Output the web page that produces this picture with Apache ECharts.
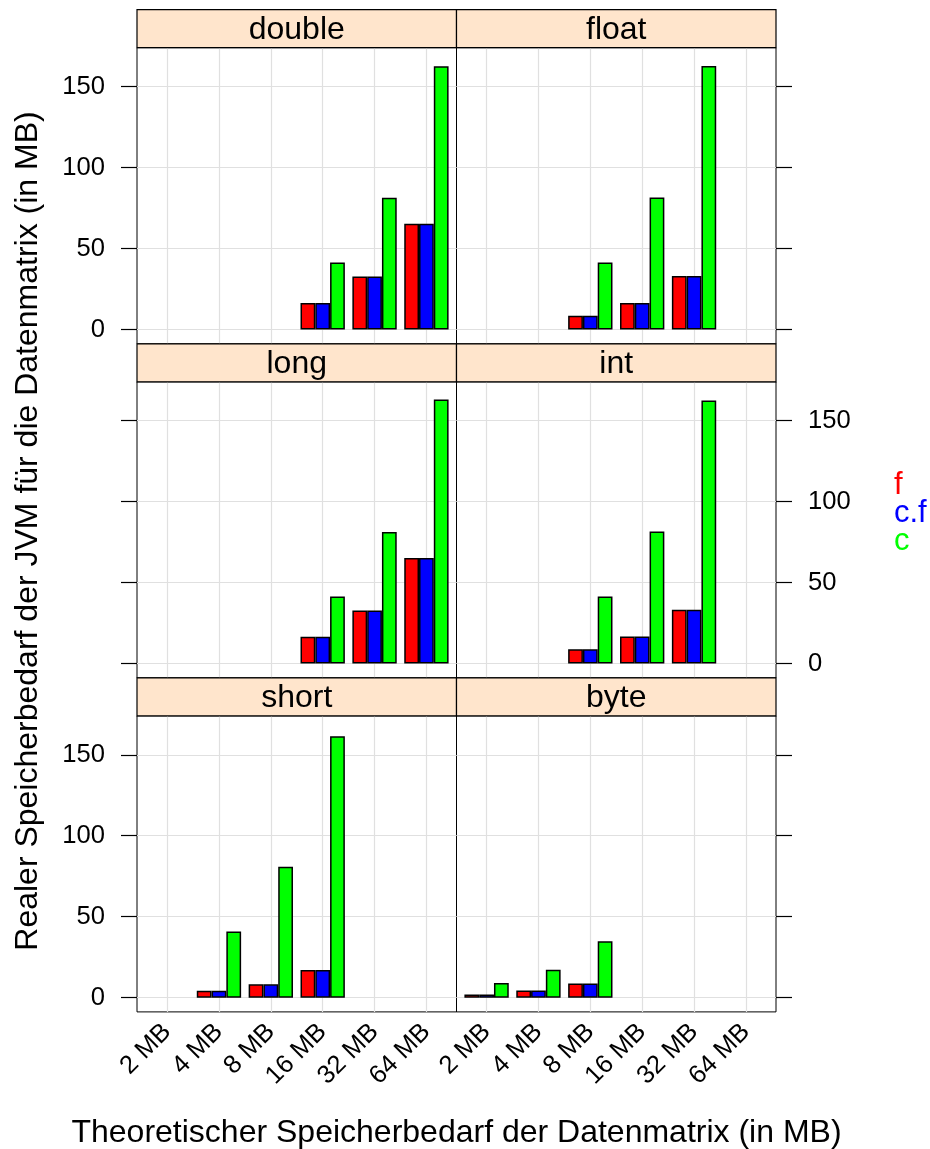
<!DOCTYPE html>
<html>
<head>
<meta charset="utf-8">
<script src="https://cdn.jsdelivr.net/npm/echarts@6/dist/echarts.min.js"></script>
<style>
html,body{margin:0;padding:0;background:#fff;}
#chart{width:930px;height:1149px;}
</style>
</head>
<body>
<div id="chart"></div>
<script>
// ---- data ----
const categories = ['2 MB', '4 MB', '8 MB', '16 MB', '32 MB', '64 MB'];
const panelNames = ['double', 'float', 'long', 'int', 'short', 'byte'];
const seriesNames = ['f', 'c.f', 'c'];
const seriesColors = ['#FF0000', '#0000FF', '#00FF00'];
const yTickValues = [0, 50, 100, 150];
const xTickValues = [0, 1, 2, 3, 4, 5];

const doubleF  = [null, null, null, 16.4, 32.7, 65.3];
const doubleCF = [null, null, null, 16.4, 32.7, 65.3];
const doubleC  = [null, null, null, 41.4, 81.4, 162.6];

const floatF   = [null, null, 8.4, 16.4, 33.0, null];
const floatCF  = [null, null, 8.4, 16.4, 33.0, null];
const floatC   = [null, null, 41.4, 81.5, 162.7, null];

const longF    = [null, null, null, 16.6, 32.8, 65.2];
const longCF   = [null, null, null, 16.6, 32.8, 65.2];
const longC    = [null, null, null, 41.4, 81.3, 163.0];

const intF     = [null, null, 8.8, 16.7, 33.3, null];
const intCF    = [null, null, 8.8, 16.7, 33.3, null];
const intC     = [null, null, 41.4, 81.5, 162.5, null];

const shortF   = [null, 4.3, 8.2, 17.0, null, null];
const shortCF  = [null, 4.3, 8.2, 17.0, null, null];
const shortC   = [null, 40.9, 80.8, 161.5, null, null];

const byteF    = [2.0, 4.4, 8.7, null, null, null];
const byteCF   = [1.9, 4.4, 8.7, null, null, null];
const byteC    = [9.0, 17.2, 34.8, null, null, null];

const panelData = [
  [doubleF, doubleCF, doubleC],
  [floatF, floatCF, floatC],
  [longF, longCF, longC],
  [intF, intCF, intC],
  [shortF, shortCF, shortC],
  [byteF, byteCF, byteC]
];

// ---- layout ----
const FONT = '"Liberation Sans", Arial, Helvetica, sans-serif';
const panelLeft0 = 137, panelW = 319.5;
const panelTop0 = 47.7, rowStep = 334.1, panelH = 296, stripH = 38;
const yMin = -8.8, yMax = 174;
const xMin = -0.58, xMax = 5.58;

const grids = [], xAxes = [], yAxes = [], series = [], graphics = [];

panelNames.forEach((name, p) => {
  const r = Math.floor(p / 2), c = p % 2;
  const left = panelLeft0 + c * panelW;
  const top = panelTop0 + r * rowStep;
  grids.push({
    left: left, top: top, width: panelW, height: panelH,
    show: true, borderColor: '#000', borderWidth: 1, backgroundColor: 'transparent'
  });
  xAxes.push({
    gridIndex: p, type: 'value', min: xMin, max: xMax, position: 'bottom',
    axisLine: { show: false, onZero: false },
    axisTick: { show: false, customValues: xTickValues },
    splitLine: { show: true, lineStyle: { color: '#e0e0e0', width: 1.2 } },
    axisLabel: {
      show: r === 2, customValues: xTickValues, rotate: 45, margin: 16,
      fontSize: 25.6, color: '#000', fontFamily: FONT,
      formatter: v => categories[Math.round(v)]
    }
  });
  const showLabels = (c === 0 && r !== 1) || (c === 1 && r === 1);
  yAxes.push({
    gridIndex: p, type: 'value', min: yMin, max: yMax,
    position: c === 0 ? 'left' : 'right',
    axisLine: { show: false, onZero: false },
    axisTick: { show: true, length: 16, customValues: yTickValues, lineStyle: { color: '#000', width: 1.2 } },
    axisLabel: { show: showLabels, customValues: yTickValues, margin: 32, fontSize: 25.6, color: '#000', fontFamily: FONT },
    splitLine: { show: true, lineStyle: { color: '#e0e0e0', width: 1.2 } }
  });
  panelData[p].forEach((vals, s) => {
    const pairs = [];
    vals.forEach((v, i) => { if (v !== null) pairs.push([i, v]); });
    series.push({
      type: 'bar', name: seriesNames[s], xAxisIndex: p, yAxisIndex: p,
      data: pairs, barGap: '0%', barCategoryGap: '14.5%',
      itemStyle: { color: seriesColors[s], borderColor: '#000', borderWidth: 1.5 },
      emphasis: { disabled: true }, silent: true
    });
  });
  // strip
  graphics.push({
    type: 'rect', z: 10,
    shape: { x: left, y: top - stripH, width: panelW, height: stripH },
    style: { fill: '#FFE5CC', stroke: '#000', lineWidth: 1.2 }
  });
  graphics.push({
    type: 'text', z: 11, x: left + panelW / 2, y: top - stripH / 2 + 1,
    style: { text: name, fill: '#000', font: '32px ' + FONT, textAlign: 'center', textVerticalAlign: 'middle' }
  });
});

graphics.push({
  type: 'text', x: 28, y: 531, rotation: Math.PI / 2,
  style: { text: 'Realer Speicherbedarf der JVM für die Datenmatrix (in MB)', fill: '#000',
           font: '32px ' + FONT, textAlign: 'center', textVerticalAlign: 'middle' }
});
graphics.push({
  type: 'text', x: 456.5, y: 1133,
  style: { text: 'Theoretischer Speicherbedarf der Datenmatrix (in MB)', fill: '#000',
           font: '32px ' + FONT, textAlign: 'center', textVerticalAlign: 'middle' }
});

const chart = echarts.init(document.getElementById('chart'), null, { renderer: 'canvas' });
chart.setOption({
  animation: false,
  backgroundColor: '#fff',
  grid: grids,
  xAxis: xAxes,
  yAxis: yAxes,
  series: series,
  legend: {
    orient: 'vertical', left: 883, top: 465, itemGap: -3,
    itemWidth: 0, itemHeight: 0, selectedMode: false,
    textStyle: { fontSize: 31, fontFamily: FONT, lineHeight: 30 },
    data: seriesNames.map((n, i) => ({ name: n, textStyle: { color: seriesColors[i] } }))
  },
  graphic: graphics
});
</script>
</body>
</html>
